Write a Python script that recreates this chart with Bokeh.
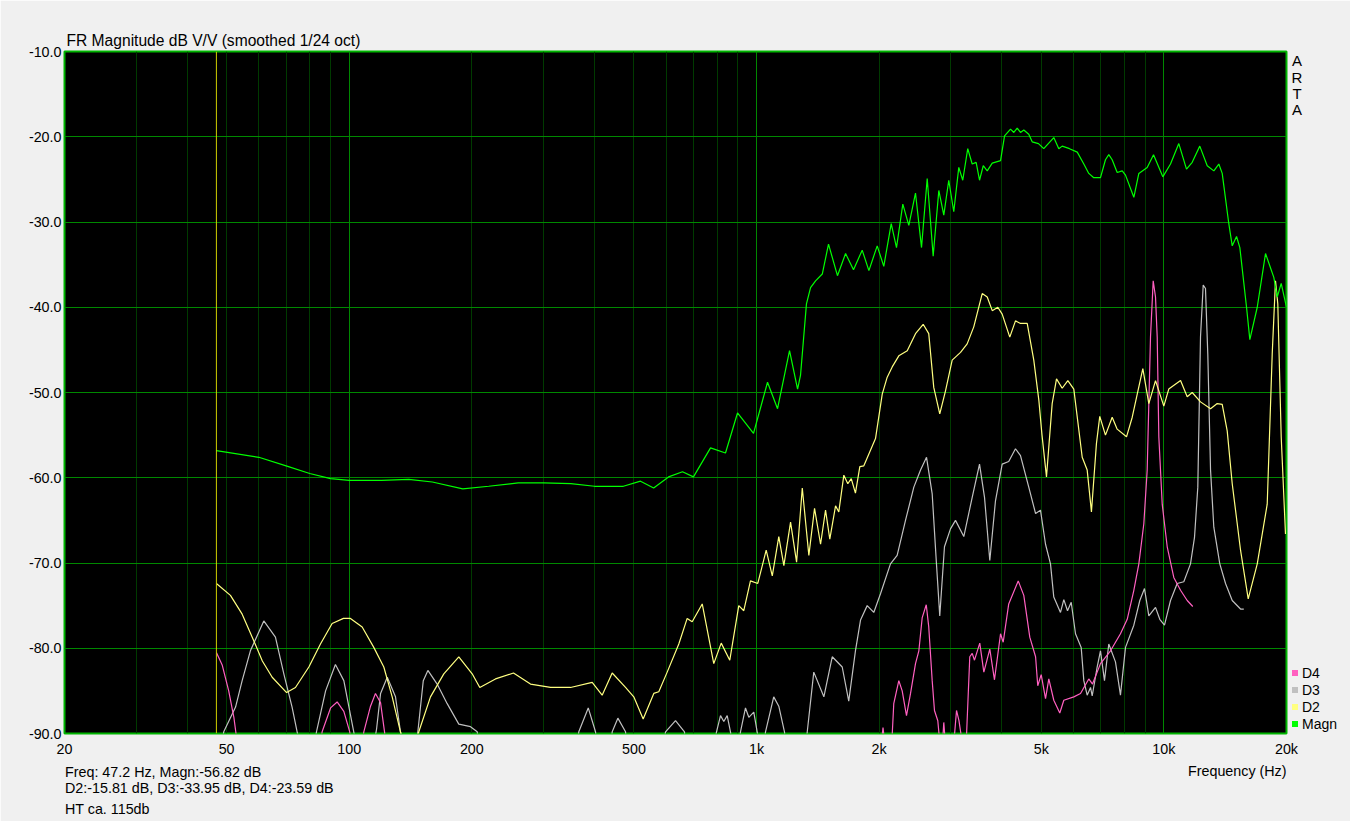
from bokeh.plotting import figure
from bokeh.models import FixedTicker, NumeralTickFormatter, Grid, Span, Label, Legend, LegendItem
from bokeh.embed import file_html
from bokeh.resources import INLINE

title_text = "FR Magnitude dB V/V (smoothed 1/24 oct)"
x_tick_values = [20, 50, 100, 200, 500, 1000, 2000, 5000, 10000, 20000]
x_tick_labels = ["20", "50", "100", "200", "500", "1k", "2k", "5k", "10k", "20k"]
y_tick_values = [-90, -80, -70, -60, -50, -40, -30, -20, -10]
minor_grid_freqs = [30, 40, 50, 60, 70, 80, 90, 200, 300, 400, 500, 600, 700, 800, 900,
                    2000, 3000, 4000, 5000, 6000, 7000, 8000, 9000]
major_grid_freqs = [100, 1000, 10000]
cursor_freq = 47.2
info_lines = ["Freq: 47.2 Hz, Magn:-56.82 dB",
              "D2:-15.81 dB, D3:-33.95 dB, D4:-23.59 dB",
              "HT ca. 115db"]
x_axis_title = "Frequency (Hz)"
side_letters = ["A", "R", "T", "A"]
legend_labels = ["D4", "D3", "D2", "Magn"]
legend_colors = ["#ff60c0", "#c0c0c0", "#ffff80", "#00ff00"]

magn_freq = [47.2, 60, 70, 80, 90, 100, 120, 140, 160, 190, 220, 260, 300, 350, 400, 471, 519, 559, 608,
             658, 700, 771, 839, 898, 983, 1064, 1126, 1205, 1261, 1282, 1326, 1357, 1396, 1450, 1502,
             1580, 1654, 1730, 1817, 1887, 1978, 2053, 2141, 2206, 2286, 2365, 2456, 2541, 2624, 2714,
             2802, 2882, 2964, 3049, 3137, 3208, 3300, 3384, 3460, 3527, 3602, 3684, 3790, 3972, 4063,
             4203, 4282, 4364, 4446, 4530, 4659, 4750, 4922, 5071, 5367, 5521, 5628, 5866, 6128, 6360,
             6541, 6728, 6988, 7188, 7324, 7466, 7680, 7902, 8050, 8438, 8680, 9100, 9432, 9940, 10382,
             10880, 11364, 11736, 12250, 12776, 13262, 13642, 13906, 14434, 14716, 15080, 15364, 15956,
             16256, 16952, 17764, 18616, 18978, 19410, 20000]
magn_db = [-56.82, -57.6, -58.6, -59.5, -60.1, -60.3, -60.3, -60.2, -60.5, -61.3, -61.0, -60.6, -60.6,
           -60.7, -61.0, -61.0, -60.4, -61.2, -59.9, -59.3, -59.9, -56.5, -57.1, -52.4, -54.8, -48.8,
           -51.9, -45.1, -49.6, -48.0, -39.6, -37.7, -36.9, -36.1, -32.6, -36.3, -33.7, -35.6, -33.3,
           -35.7, -32.8, -35.2, -30.2, -33.0, -27.9, -30.4, -26.6, -33.0, -24.9, -34.0, -26.3, -29.2,
           -25.1, -28.8, -23.6, -25.1, -21.4, -23.2, -23.0, -25.1, -23.4, -24.0, -23.1, -22.8, -19.9,
           -19.1, -19.5, -19.0, -19.5, -19.2, -19.7, -20.6, -20.8, -21.4, -20.1, -21.4, -21.1, -21.4,
           -21.8, -23.2, -24.3, -24.8, -24.8, -22.7, -22.1, -22.7, -24.2, -24.0, -24.5, -27.1, -24.3,
           -23.6, -22.1, -24.7, -23.2, -20.8, -23.8, -23.0, -21.1, -23.4, -24.0, -23.2, -24.3, -30.2,
           -32.8, -31.7, -33.0, -40.0, -43.8, -40.0, -33.7, -36.5, -38.8, -37.2, -40.0]

d2_freq = [47.2, 51.1, 54.6, 57.8, 61.2, 64.7, 70.2, 73.8, 79.6, 85.0, 90.8, 96.8, 100.7, 107.6, 114.9,
           121.6, 127.5, 133.6, 141.4, 148.2, 158.3, 170.7, 185.8, 200.4, 209.2, 228.6, 253.1, 278.6,
           312.1, 349.4, 394.9, 417.8, 442.2, 476.8, 499.6, 526.8, 559.4, 575.4, 603.4, 644.4, 675.6,
           695, 735.6, 785.2, 819, 859.6, 904.4, 930.4, 966.2, 1007, 1056, 1093, 1134, 1167, 1212, 1254,
           1295, 1344, 1388, 1436, 1477, 1513, 1563, 1592, 1638, 1675, 1708, 1749, 1793, 1834, 1959,
           2035, 2093, 2153, 2235, 2344, 2456, 2565, 2647, 2723, 2817, 2910, 3022, 3168, 3289, 3414,
           3581, 3684, 3790, 3911, 4009, 4185, 4322, 4446, 4618, 4793, 4932, 5021, 5150, 5318, 5450,
           5628, 5810, 6010, 6302, 6482, 6640, 6830, 6960, 7188, 7466, 7680, 8096, 8362, 8602, 8878,
           9184, 9538, 9996, 10280, 10988, 11410, 11736, 12300, 13018, 13518, 13906, 14304, 14716,
           15424, 16108, 16952, 17934, 18448, 18794, 19040, 19410, 19886]
d2_db = [-72.4, -73.8, -76.0, -78.7, -81.5, -83.4, -85.2, -84.6, -82.2, -79.5, -77.1, -76.5, -76.5, -77.5,
         -79.9, -82.2, -85.7, -89.8, -93.0, -89.8, -85.7, -83.0, -81.0, -83.0, -84.6, -83.6, -82.9, -84.2,
         -84.6, -84.6, -84.0, -85.5, -82.9, -84.6, -85.7, -88.3, -85.3, -85.1, -82.8, -79.5, -76.5,
         -76.9, -74.8, -81.8, -79.4, -81.4, -75.0, -75.6, -72.1, -72.4, -68.5, -71.5, -66.9, -70.3,
         -65.2, -69.9, -61.2, -69.1, -63.6, -67.8, -63.8, -67.2, -63.3, -64.0, -59.7, -60.7, -60.1,
         -61.8, -58.7, -58.6, -55.4, -50.2, -48.2, -47.0, -45.7, -45.1, -43.1, -42.0, -43.1, -49.4,
         -52.5, -49.8, -46.2, -45.3, -44.3, -42.3, -38.4, -38.8, -40.4, -40.0, -40.8, -43.5, -41.6,
         -41.9, -41.9, -46.2, -50.9, -55.0, -59.9, -51.3, -48.4, -49.5, -48.6, -49.6, -57.6, -59.1,
         -64.0, -56.0, -52.8, -55.0, -52.9, -54.3, -55.2, -52.9, -50.2, -47.2, -51.3, -48.6, -51.6,
         -49.6, -48.6, -50.5, -50.0, -51.1, -51.9, -51.3, -51.4, -54.5, -60.7, -68.5, -74.2, -70.1,
         -63.1, -45.5, -36.9, -39.6, -55.2, -66.6]

d3_freq = [47.2, 49.2, 52.6, 54.6, 57.2, 61.7, 65.9, 69.1, 72.4, 74.5, 76.8, 81.3, 83.1, 87.5, 92.5, 97.0,
           102.6, 105.4, 113.4, 116.7, 119.4, 124.0, 129.9, 133.6, 136.7, 143.8, 147.4, 152.0, 156.0,
           164.4, 174.0, 185.8, 198.5, 206.2, 210.1, 359.4, 366.1, 386.2, 402.4, 409.3, 435.5, 442.2,
           456.6, 476.8, 484.9, 581.2, 597.9, 632.5, 665.4, 673, 779.5, 797.4, 815.7, 831.0, 847.1, 863.0,
           877.8, 898, 913.2, 939.4, 957.2, 984.5, 1003.6, 1022.6, 1034, 1052, 1102, 1134, 1171, 1191,
           1311, 1332, 1382, 1463, 1534, 1623, 1684, 1749, 1800, 1869, 1940, 2015, 2132, 2214, 2321,
           2433, 2527, 2614, 2699, 2765, 2817, 2893, 2993, 3079, 3227, 3384, 3527, 3628, 3738, 3860,
           4009, 4160, 4322, 4446, 4659, 4842, 4978, 5122, 5268, 5367, 5574, 5680, 5800, 5922, 6068,
           6266, 6360, 6482, 6606, 6668, 6858, 6988, 7148, 7324, 7606, 7824, 8050, 8438, 8728, 8962,
           9184, 9538, 9772, 10034, 10382, 10782, 11192, 11624, 11890, 12114, 12300, 12490, 12652,
           12818, 13018, 13262, 13718, 14170, 14716, 15424, 15710]
d3_db = [-95.0, -89.8, -86.9, -83.8, -80.3, -76.8, -78.7, -83.0, -86.9, -89.8, -93.0, -93.0, -89.8, -85.0,
         -81.9, -83.8, -89.8, -93.0, -93.0, -89.5, -85.3, -83.4, -85.7, -89.8, -93.0, -93.0, -89.8,
         -83.8, -82.6, -84.2, -86.5, -88.9, -89.2, -89.8, -93.0, -93.0, -89.8, -87.0, -89.8, -93.0,
         -93.0, -89.8, -88.2, -89.8, -93.0, -93.0, -89.8, -88.5, -89.8, -93.0, -93.0, -89.8, -87.9,
         -88.6, -87.9, -89.8, -93.0, -93.0, -89.8, -87.0, -88.1, -87.5, -89.8, -93.0, -93.0, -89.8,
         -85.7, -86.8, -89.8, -93.0, -93.0, -89.8, -82.8, -85.7, -81.0, -82.2, -86.2, -80.3, -76.7,
         -75.0, -75.8, -73.6, -70.1, -69.1, -65.0, -61.1, -59.1, -57.6, -61.9, -70.1, -76.2, -68.1,
         -66.0, -65.0, -66.9, -62.3, -58.4, -62.3, -69.7, -62.7, -58.4, -58.1, -56.6, -57.4, -61.1,
         -64.2, -63.8, -67.8, -70.1, -74.0, -75.8, -74.3, -75.6, -74.6, -78.3, -79.9, -83.8, -85.5,
         -84.6, -85.6, -82.2, -80.3, -83.8, -79.5, -81.6, -85.5, -79.9, -77.3, -74.4, -73.0, -76.2,
         -75.2, -76.6, -77.3, -74.4, -72.4, -72.2, -70.1, -67.0, -61.1, -43.5, -37.4, -37.8, -45.5,
         -59.1, -65.8, -70.1, -72.4, -74.4, -75.4, -75.4]

d4_freq = [47.2, 48.8, 50.6, 52.1, 52.9, 54.1, 84.1, 85.8, 90.0, 93.4, 97.0, 100.3, 101.9, 106.6, 108.6,
           112.8, 116.0, 119.4, 122.1, 124.2, 2004, 2044, 2085, 2138, 2172, 2235, 2278, 2334, 2388, 2456,
           2503, 2551, 2610, 2647, 2699, 2734, 2786, 2817, 2845, 2882, 2927, 3027, 3097, 3140, 3197,
           3259, 3338, 3384, 3428, 3532, 3614, 3738, 3838, 3972, 4032, 4160, 4389, 4530, 4686, 4842,
           4902, 4998, 5122, 5218, 5367, 5552, 5680, 6010, 6242, 6541, 6680, 6988, 7396, 7824, 8128,
           8438, 8680, 8928, 9100, 9184, 9272, 9414, 9538, 9630, 9718, 9906, 10190, 10576, 10988,
           11410, 11776]
d4_db = [-80.5, -82.0, -85.0, -88.1, -90.5, -93.0, -93.0, -89.8, -87.0, -86.3, -87.4, -89.8, -93.0, -93.0,
         -89.8, -86.8, -85.3, -86.4, -89.8, -93.0, -93.0, -89.3, -93.0, -93.0, -86.5, -83.8, -85.0,
         -87.9, -85.3, -81.8, -80.3, -76.4, -74.9, -77.5, -83.8, -87.3, -88.5, -91.0, -93.0, -88.7,
         -93.0, -93.0, -87.3, -88.5, -91.0, -93.0, -81.0, -80.6, -81.4, -79.4, -82.8, -80.1, -83.7,
         -78.3, -79.3, -74.8, -72.1, -73.8, -78.7, -81.0, -84.4, -83.1, -85.9, -83.6, -86.1, -87.6,
         -86.1, -85.7, -85.3, -83.6, -84.2, -81.8, -80.3, -78.3, -76.6, -73.2, -70.1, -65.4, -59.1,
         -51.3, -43.5, -36.9, -38.8, -43.5, -55.2, -63.1, -68.1, -71.7, -73.2, -74.4, -75.1]

series = [(d3_freq, d3_db, "#c0c0c0"), (d4_freq, d4_db, "#ff60c0"),
          (d2_freq, d2_db, "#ffff80"), (magn_freq, magn_db, "#00ff00")]

FONT = "Liberation Sans"

p = figure(frame_width=1222, frame_height=682, x_axis_type="log",
           x_range=(20, 20000), y_range=(-90, -10),
           output_backend="svg", toolbar_location=None,
           min_border_left=64, min_border_right=64, min_border_top=51, min_border_bottom=88,
           background_fill_color="#000000", border_fill_color="#f0f0f0")

p.title.text = title_text
p.title.text_font = FONT
p.title.text_font_size = "15.6px"
p.title.text_font_style = "normal"
p.title.text_color = "#000000"
p.title.align = "left"
p.title.offset = 2
p.title.standoff = 4.5

p.outline_line_color = "#00b400"
p.outline_line_width = 2

# grids
p.xgrid.ticker = FixedTicker(ticks=minor_grid_freqs)
p.xgrid.grid_line_color = "#003a00"
p.xgrid.grid_line_width = 1
p.add_layout(Grid(dimension=0, ticker=FixedTicker(ticks=major_grid_freqs),
                  grid_line_color="#008800", grid_line_width=1))
p.ygrid.ticker = FixedTicker(ticks=y_tick_values)
p.ygrid.grid_line_color = "#008800"
p.ygrid.grid_line_width = 1

# axes
for ax in (p.xaxis[0], p.yaxis[0]):
    ax.axis_line_color = None
    ax.major_tick_line_color = None
    ax.minor_tick_line_color = None
    ax.major_tick_out = 0
    ax.major_tick_in = 0
    ax.minor_tick_out = 0
    ax.minor_tick_in = 0
    ax.major_label_text_font = FONT
    ax.major_label_text_font_size = "14.3px"
    ax.major_label_text_color = "#000000"

p.xaxis.ticker = FixedTicker(ticks=x_tick_values)
p.xaxis.major_label_overrides = {v: t for v, t in zip(x_tick_values, x_tick_labels)}
p.xaxis.major_label_standoff = 7
p.yaxis.ticker = FixedTicker(ticks=y_tick_values)
p.yaxis.formatter = NumeralTickFormatter(format="0.0")
p.yaxis.major_label_standoff = 3

# cursor
p.add_layout(Span(location=cursor_freq, dimension="height", line_color="#d0d000", line_width=1))

# curves
for fx, fy, col in series:
    p.line(fx, fy, line_color=col, line_width=1.2)

# legend: square swatches (zero-size markers on the data, only the legend swatch shows)
legend_series = [(d4_freq, d4_db), (d3_freq, d3_db), (d2_freq, d2_db), (magn_freq, magn_db)]
items = []
for lab, col, (fx, fy) in zip(legend_labels, legend_colors, legend_series):
    r = p.scatter(fx, fy, marker="square", size=0, fill_color=col, line_color=None)
    items.append(LegendItem(label=lab, renderers=[r]))
legend = Legend(items=items, location=(1, 1), orientation="vertical", padding=1, margin=0,
                spacing=0, glyph_width=15, glyph_height=15, label_standoff=0, label_height=17,
                label_text_font=FONT, label_text_font_size="14px", label_text_color="#000000",
                border_line_color=None, background_fill_alpha=0)
p.add_layout(legend, "right")

# texts outside the frame (placed in side panels)
info_y = [771.5, 787.7, 808.0]
for txt, yy in zip(info_lines, info_y):
    p.add_layout(Label(x=64.5, y=yy, x_units="canvas", y_units="canvas", text=txt,
                       text_font=FONT, text_font_size="14.3px", text_color="#000000",
                       text_baseline="middle", text_align="left"), "below")
p.add_layout(Label(x=1286, y=770.5, x_units="canvas", y_units="canvas", text=x_axis_title,
                   text_font=FONT, text_font_size="14.3px", text_color="#000000",
                   text_baseline="middle", text_align="right"), "below")
letter_y = [60.0, 76.5, 93.0, 109.3]
for ch, yy in zip(side_letters, letter_y):
    p.add_layout(Label(x=1296.5, y=yy, x_units="canvas", y_units="canvas", text=ch,
                       text_font=FONT, text_font_size="15px", text_color="#000000",
                       text_baseline="middle", text_align="center"), "right")

open("out.html", "w").write(file_html(p, INLINE))
